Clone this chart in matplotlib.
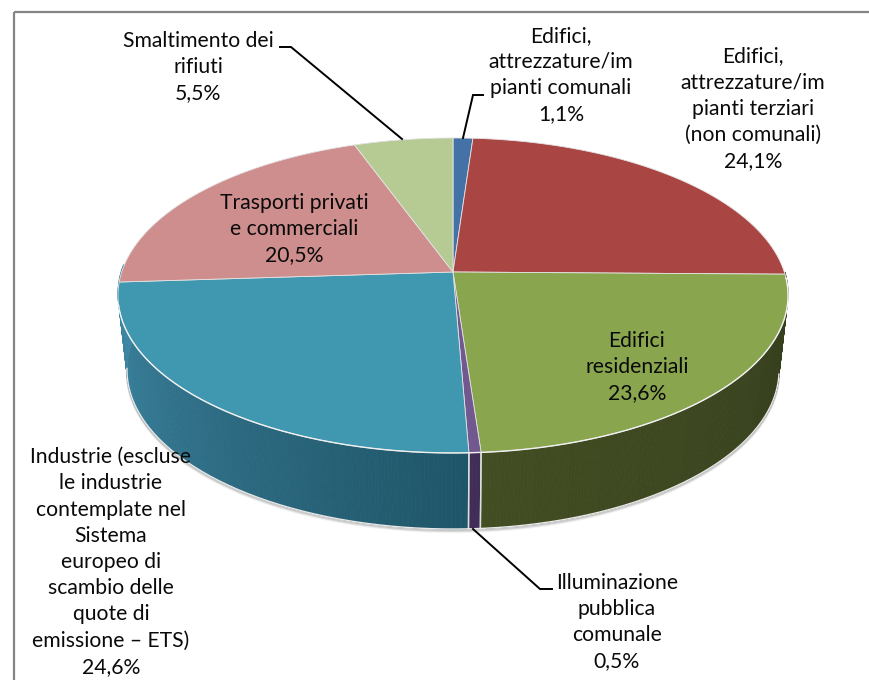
import numpy as np
import matplotlib
matplotlib.use("Agg")
import matplotlib.pyplot as plt
from matplotlib.patches import Polygon, Rectangle

# ---- data ----
categories = [
    "Edifici,\nattrezzature/im\npianti comunali",
    "Edifici,\nattrezzature/im\npianti terziari\n(non comunali)",
    "Edifici\nresidenziali",
    "Illuminazione\npubblica\ncomunale",
    "Industrie (escluse\nle industrie\ncontemplate nel\nSistema\neuropeo di\nscambio delle\nquote di\nemissione \u2013 ETS)",
    "Trasporti privati\ne commerciali",
    "Smaltimento dei\nrifiuti",
]
values = [1.1, 24.1, 23.6, 0.5, 24.6, 20.5, 5.5]
top_colors = ["#4471a6", "#a94543", "#89a54e", "#71588f", "#4097b0", "#ce8e8d", "#b6cb94"]
wall_left = ["#2f4f75", "#76302f", "#434d22", "#402d58", "#3f89a6", "#8f6262", "#7f8e67"]
wall_right = ["#2f4f75", "#76302f", "#333d1d", "#402d58", "#1f5568", "#8f6262", "#7f8e67"]

# label centres (x, y of the block) in figure pixels
label_pos = [(561, 75), (753, 109), (637, 367), (617, 622), (111, 562), (294, 229), (198, 67)]

# ---- projection of the pie ----
CX, K = 453.0, 0.149
TOP = dict(A=331.3, B=154.0, y=272.0)
BOT = dict(A=322.4, B=155.5, y=346.3)
FRONT = (np.radians(90), np.radians(272))


def rim(theta, p):
    u, v = np.sin(theta), np.cos(theta)
    w = 1 + K * v
    return CX + p["A"] * u / w, p["y"] - p["B"] * v / w


fig = plt.figure(figsize=(8.7, 6.8), dpi=100)
ax = fig.add_axes([0, 0, 1, 1])
ax.set_xlim(0, 870)
ax.set_ylim(680, 0)
ax.axis("off")

# frame
ax.add_patch(Rectangle((14, 12), 900, 720, fill=False, ec="#858585", lw=1.6, zorder=0))

fracs = np.array(values) / np.sum(values)
edges = np.concatenate([[0], np.cumsum(fracs)]) * 2 * np.pi

# soft shadow under the front rim
front = np.linspace(np.radians(100), np.radians(262), 240)
bx, by = rim(front, BOT)
for off, a in zip((3.0, 2.0, 1.0), (0.08, 0.14, 0.22)):
    ax.plot(bx, by + off, color="#555555", alpha=a, lw=1.5, zorder=1, solid_capstyle="round")

# walls: only the slices that reach the front of the pie show one
for i in (2, 3, 4):
    lo = max(edges[i], FRONT[0])
    hi = FRONT[1] if i == 4 else min(edges[i + 1], FRONT[1])
    n = max(2, int(np.degrees(hi - lo) * 2))
    th = np.linspace(lo, hi, n + 1)
    c0 = np.array(matplotlib.colors.to_rgb(wall_left[i]))
    c1 = np.array(matplotlib.colors.to_rgb(wall_right[i]))
    for j in range(n):
        t = j / max(1, n - 1)
        col = c1 + (c0 - c1) * t          # angle runs from screen right to left
        s = np.array([th[j], th[j + 1]])
        xt, yt = rim(s, TOP)
        xb, yb = rim(s, BOT)
        ax.add_patch(Polygon(np.c_[np.r_[xt, xb[::-1]], np.r_[yt - 2, yb[::-1]]],
                             fc=col, ec=col, lw=0.6, zorder=2))
    # light wall separators
    for a in (lo, hi):
        if np.radians(100) < a < np.radians(260):
            xa, ya = rim(np.array([a, a]), TOP)
            xc, yc = rim(np.array([a, a]), BOT)
            ax.plot([xa[0], xc[0]], [ya[0], yc[0]], color="#dddddd", lw=1.0, zorder=3)

# white line along the lower rim
ax.plot(bx, by, color="#e8e8e8", lw=1.0, zorder=3)

# top faces
for i in range(len(values)):
    th = np.linspace(edges[i], edges[i + 1], max(3, int(np.degrees(edges[i + 1] - edges[i]) * 2)))
    x, y = rim(th, TOP)
    px = np.r_[CX, x]
    py = np.r_[TOP["y"], y]
    ax.add_patch(Polygon(np.c_[px, py], closed=True, fc=top_colors[i], ec="#e4e4e4", lw=0.6,
                         joinstyle="round", zorder=4))

# white line on the front of the top rim
fx, fy = rim(np.linspace(np.radians(92), np.radians(258), 240), TOP)
ax.plot(fx, fy, color="#f0f0f0", lw=1.0, zorder=5)

# leader lines (label side -> elbow -> slice)
leaders = [
    ([483, 473], [95, 95], 0),
    ([552, 540], [589, 589], 3),
    ([280, 291], [47, 47], 6),
]
anchors = {0: (463, 138), 3: (473, 529), 6: (402, 139)}
for xs, ys, idx in leaders:
    ax.plot(xs + [anchors[idx][0]], ys + [anchors[idx][1]], color="#000000", lw=1.4, zorder=6,
            solid_joinstyle="miter")

# labels
for name, val, (lx, ly) in zip(categories, values, label_pos):
    txt = name + "\n" + f"{val:.1f}".replace(".", ",") + "%"
    ax.text(lx, ly, txt, ha="center", va="center", multialignment="center",
            family="Lato", fontsize=15.2, linespacing=1.39, color="#0a0a0a", zorder=7)

fig.savefig("out.png", dpi=100, facecolor="white")
